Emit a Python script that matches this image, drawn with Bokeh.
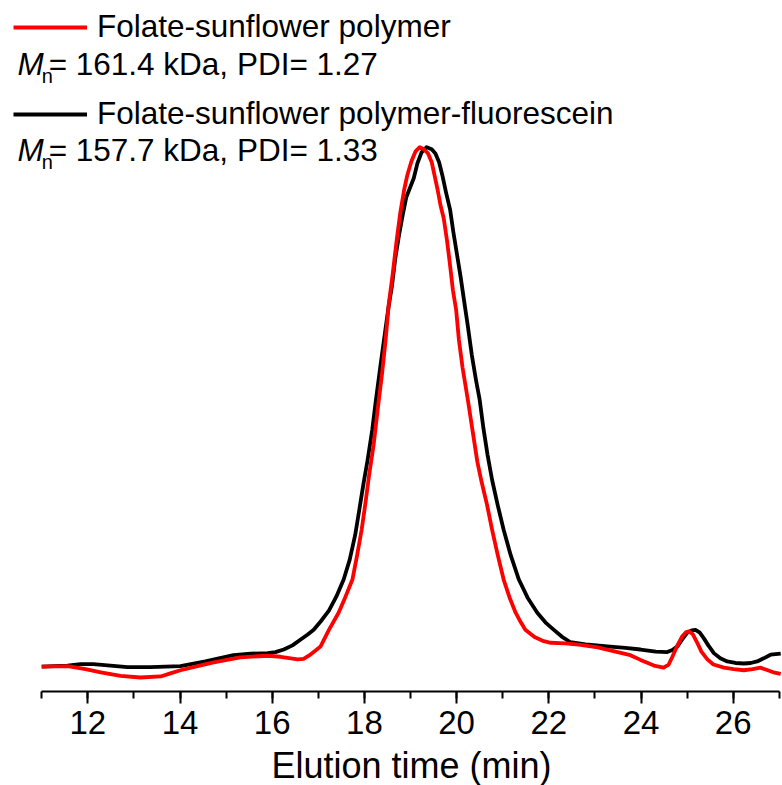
from bokeh.plotting import figure
from bokeh.models import Range1d, SingleIntervalTicker, Legend, LegendItem, Label, Title
from bokeh.embed import file_html
from bokeh.resources import INLINE

# Elution time (min) and normalized detector response
red_t = [11.00, 11.56, 11.95, 12.28, 12.71, 13.14, 13.58, 13.79, 14.01, 14.38, 14.73, 15.31,
         15.90, 16.18, 16.33, 16.55, 16.68, 16.81, 16.94, 17.05, 17.23, 17.44, 17.59, 17.74,
         17.84, 17.94, 18.02, 18.10, 18.20, 18.30, 18.38, 18.46, 18.53, 18.61, 18.70, 18.78,
         18.86, 18.93, 19.02, 19.11, 19.20, 19.29, 19.38, 19.46, 19.52, 19.59, 19.65, 19.72,
         19.79, 19.85, 19.92, 19.99, 20.05, 20.13, 20.25, 20.36, 20.45, 20.54, 20.66, 20.77,
         20.89, 21.02, 21.15, 21.28, 21.39, 21.49, 21.69, 21.89, 22.04, 22.36, 22.69, 23.06,
         23.40, 23.77, 23.99, 24.28, 24.49, 24.60, 24.68, 24.79, 24.89, 24.97, 25.04, 25.12,
         25.22, 25.31, 25.44, 25.57, 25.80, 26.01, 26.23, 26.42, 26.59, 26.72, 26.87, 27.03]
red_v = [-0.002, -0.001, -0.007, -0.013, -0.020, -0.023, -0.021, -0.015, -0.009, -0.001, 0.006, 0.016,
         0.019, 0.017, 0.015, 0.012, 0.013, 0.020, 0.029, 0.037, 0.069, 0.102, 0.133, 0.166,
         0.212, 0.262, 0.312, 0.366, 0.426, 0.503, 0.561, 0.628, 0.699, 0.753, 0.821, 0.875,
         0.917, 0.946, 0.973, 0.992, 1.000, 0.996, 0.988, 0.971, 0.946, 0.917, 0.888, 0.863,
         0.821, 0.778, 0.724, 0.686, 0.628, 0.574, 0.509, 0.445, 0.393, 0.355, 0.310, 0.262,
         0.214, 0.166, 0.131, 0.102, 0.084, 0.069, 0.055, 0.047, 0.044, 0.043, 0.040, 0.035,
         0.028, 0.020, 0.011, 0.000, -0.004, 0.002, 0.017, 0.039, 0.056, 0.064, 0.066, 0.061,
         0.044, 0.027, 0.012, 0.002, -0.004, -0.007, -0.009, -0.007, -0.004, -0.008, -0.013, -0.016]

black_t = [11.00, 11.56, 11.84, 12.12, 12.49, 12.86, 13.36, 14.01, 14.55, 15.16, 15.53, 15.90,
           16.07, 16.25, 16.44, 16.61, 16.77, 16.90, 17.05, 17.23, 17.39, 17.55, 17.68, 17.80,
           17.89, 17.98, 18.07, 18.17, 18.25, 18.35, 18.44, 18.52, 18.60, 18.67, 18.75, 18.83,
           18.91, 19.07, 19.15, 19.24, 19.35, 19.46, 19.54, 19.62, 19.69, 19.77, 19.86, 19.93,
           20.01, 20.09, 20.16, 20.24, 20.33, 20.42, 20.50, 20.58, 20.67, 20.77, 20.89, 21.02,
           21.17, 21.35, 21.54, 21.75, 21.93, 22.11, 22.28, 22.47, 22.80, 23.27, 23.66, 23.99,
           24.32, 24.57, 24.68, 24.79, 24.89, 25.00, 25.10, 25.18, 25.27, 25.36, 25.46, 25.58,
           25.72, 25.87, 26.05, 26.23, 26.38, 26.52, 26.66, 26.81, 27.03]
black_v = [-0.002, 0.000, 0.003, 0.003, 0.000, -0.003, -0.003, -0.001, 0.008, 0.020, 0.023, 0.024,
           0.026, 0.031, 0.039, 0.050, 0.060, 0.069, 0.085, 0.106, 0.133, 0.166, 0.204, 0.252,
           0.301, 0.351, 0.397, 0.455, 0.513, 0.580, 0.638, 0.690, 0.734, 0.786, 0.830, 0.869,
           0.904, 0.940, 0.969, 0.990, 1.000, 0.996, 0.988, 0.971, 0.946, 0.913, 0.879, 0.836,
           0.792, 0.748, 0.705, 0.657, 0.599, 0.551, 0.513, 0.459, 0.407, 0.358, 0.310, 0.262,
           0.214, 0.166, 0.131, 0.102, 0.083, 0.069, 0.056, 0.045, 0.041, 0.037, 0.034, 0.031,
           0.027, 0.026, 0.030, 0.037, 0.050, 0.063, 0.068, 0.069, 0.064, 0.053, 0.039, 0.024,
           0.014, 0.008, 0.005, 0.004, 0.005, 0.008, 0.014, 0.021, 0.023]

series_names = ["Folate-sunflower polymer", "Folate-sunflower polymer-fluorescein"]
mn_texts = ["= 161.4 kDa, PDI= 1.27", "= 157.7 kDa, PDI= 1.33"]
x_label = "Elution time (min)"
axis_span = (11, 27)

FONT = "Liberation Sans"

p = figure(width=782, height=785, output_backend="svg", toolbar_location=None,
           x_range=Range1d(10.106, 27.069), y_range=Range1d(-0.05, 1.283),
           y_axis_location=None, min_border_left=0, min_border_right=0,
           min_border_top=0, min_border_bottom=0)
p.outline_line_color = None
p.grid.visible = False
p.background_fill_color = "white"
p.border_fill_color = "white"

r_black = p.line(black_t, black_v, line_color="black", line_width=3.8, line_join="round")
r_red = p.line(red_t, red_v, line_color="#ff0000", line_width=3.8, line_join="round")

ax = p.xaxis[0]
ax.bounds = axis_span
ax.ticker = SingleIntervalTicker(interval=2, num_minor_ticks=2)
ax.axis_line_width = 2
ax.major_tick_line_width = 2
ax.minor_tick_line_width = 2
ax.major_tick_out = 12
ax.major_tick_in = 0
ax.minor_tick_out = 7
ax.minor_tick_in = 0
ax.major_label_text_font = FONT
ax.major_label_text_font_size = "33px"
ax.major_label_text_color = "black"
ax.major_label_standoff = 7

# axis title centred under the drawn axis span (the frame extends to the page edge)
xtitle = Title(text=x_label, align="center", standoff=0,
               text_font=FONT, text_font_size="36px", text_font_style="normal",
               text_color="black")
try:
    xtitle.padding = dict(left=40, right=0, top=6, bottom=0)
except Exception:
    xtitle.text = "\u00a0\u00a0\u00a0\u00a0" + x_label
p.add_layout(xtitle, "below")

def make_legend(name, renderer, loc):
    leg = Legend(items=[LegendItem(label=name, renderers=[renderer])], location=loc,
                 padding=0, margin=0, spacing=0, border_line_color=None,
                 background_fill_alpha=0, glyph_width=74, glyph_height=20,
                 label_standoff=10, label_text_font=FONT, label_text_font_size="31.5px",
                 label_text_color="black")
    p.add_layout(leg)

make_legend(series_names[0], r_red, (13, 646))
make_legend(series_names[1], r_black, (13, 559))

for mn_y, n_y, txt in [(1.161, 1.138, mn_texts[0]), (0.994, 0.971, mn_texts[1])]:
    p.add_layout(Label(x=10.475, y=mn_y, text="M", text_font=FONT, text_font_size="31.5px",
                       text_font_style="italic", text_baseline="alphabetic", text_color="black"))
    p.add_layout(Label(x=11.0, y=n_y, text="n", text_font=FONT, text_font_size="20px",
                       text_baseline="alphabetic", text_color="black"))
    p.add_layout(Label(x=11.15, y=mn_y, text=txt, text_font=FONT, text_font_size="31.5px",
                       text_baseline="alphabetic", text_color="black"))

open("out.html", "w").write(file_html(p, INLINE))
